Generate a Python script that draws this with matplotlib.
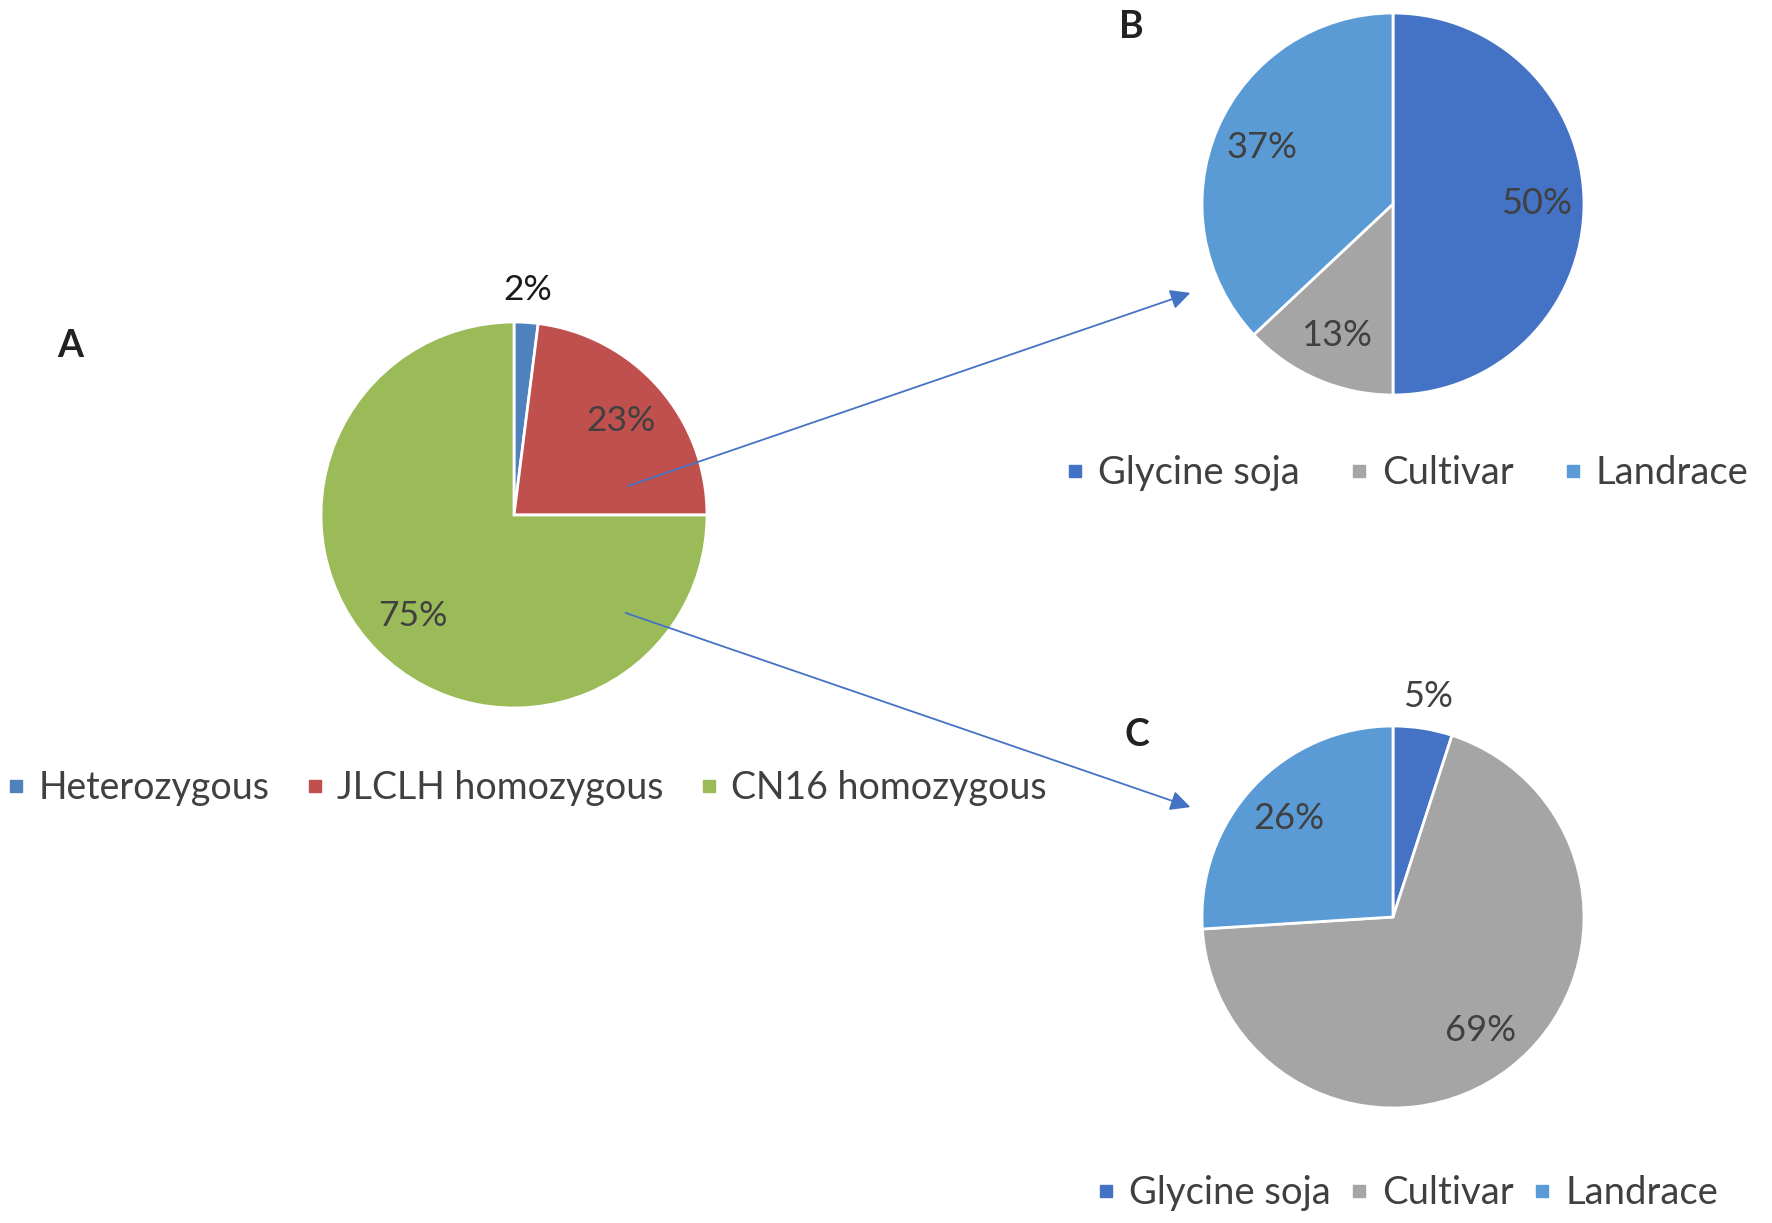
import numpy as np
import matplotlib
matplotlib.use("Agg")
import matplotlib.pyplot as plt
from matplotlib import font_manager
from matplotlib.lines import Line2D
from matplotlib.patches import FancyArrowPatch

# ---------------- data ----------------
a_labels = ["Heterozygous", "JLCLH homozygous", "CN16 homozygous"]
a_values = [2, 23, 75]
a_colors = ["#4F81BD", "#C0504D", "#9BBB59"]

b_labels = ["Glycine soja", "Cultivar", "Landrace"]
b_values = [50, 13, 37]

c_labels = ["Glycine soja", "Cultivar", "Landrace"]
c_values = [5, 69, 26]
bc_colors = ["#4472C4", "#A5A5A5", "#5B9BD5"]

panel_letters = ["A", "B", "C"]

# ---------------- fonts ----------------
avail = {f.name for f in font_manager.fontManager.ttflist}
main_font = "Lato" if "Lato" in avail else "DejaVu Sans"
narrow_font = "Liberation Sans Narrow" if "Liberation Sans Narrow" in avail else main_font
plt.rcParams["font.family"] = [main_font]

W, H = 1772, 1223
DPI = 100
fig = plt.figure(figsize=(W / DPI, H / DPI), dpi=DPI)
fig.patch.set_facecolor("white")

TXT = "#404040"


def pie_axes(cx, cy, r):
    s = 2.5 * r
    return fig.add_axes([(cx - s / 2) / W, 1 - (cy + s / 2) / H, s / W, s / H])


def draw_pie(ax, values, colors, font, fsize, small_color, pctd):
    wedges, texts, autotexts = ax.pie(
        values, colors=colors, startangle=90, counterclock=False,
        autopct=lambda p: f"{p:.0f}%", pctdistance=pctd,
        wedgeprops=dict(edgecolor="white", linewidth=2.0),
        textprops=dict(fontsize=fsize, color=TXT, family=font))
    for w, t, v in zip(wedges, autotexts, values):
        if v < 10:
            mid = np.deg2rad((w.theta1 + w.theta2) / 2)
            t.set_position((1.17 * np.cos(mid), 1.17 * np.sin(mid)))
            t.set_color(small_color)
    ax.set_xlim(-1.25, 1.25)
    ax.set_ylim(-1.25, 1.25)
    ax.set_aspect("equal")
    ax.axis("off")
    return wedges


# pie A
axA = pie_axes(514, 515, 193)
draw_pie(axA, a_values, a_colors, main_font, 25.5, "#1a1a1a", 0.74)
# pie B
axB = pie_axes(1393, 204, 191)
draw_pie(axB, b_values, bc_colors, narrow_font, 26, TXT, 0.75)
# pie C
axC = pie_axes(1393, 917, 191)
draw_pie(axC, c_values, bc_colors, narrow_font, 26, TXT, 0.75)

# panel letters
for letter, (px, py) in zip(panel_letters, [(70, 346), (1131, 27), (1137, 735)]):
    fig.text(px / W, 1 - py / H, letter, fontsize=27, fontweight="bold",
             color="#222222", ha="center", va="center")


# legends
def make_legend(labels, colors, cx, cy, fsize, colspace):
    handles = [Line2D([], [], marker="s", linestyle="none", markersize=9,
                      markerfacecolor=c, markeredgecolor=c) for c in colors]
    leg = fig.legend(handles, labels, loc="center",
                     bbox_to_anchor=(cx / W, 1 - cy / H), ncol=len(labels),
                     frameon=False, fontsize=fsize, handlelength=0.5,
                     handletextpad=0.35, columnspacing=colspace, borderpad=0)
    for t in leg.get_texts():
        t.set_color(TXT)
    return leg


make_legend(a_labels, a_colors, 527, 788, 27, 0.95)
make_legend(b_labels, bc_colors, 1407, 473, 27.5, 1.3)
make_legend(c_labels, bc_colors, 1407, 1193, 27.5, 0.5)

# arrows
for (x0, y0), (x1, y1) in [((625, 487), (1193, 292)), ((623, 612), (1193, 808))]:
    arr = FancyArrowPatch((x0 / W, 1 - y0 / H), (x1 / W, 1 - y1 / H),
                          transform=fig.transFigure, arrowstyle="-|>",
                          mutation_scale=30, color="#4472C4", linewidth=1.3)
    fig.add_artist(arr)

fig.savefig("out.png", dpi=DPI, facecolor="white")
